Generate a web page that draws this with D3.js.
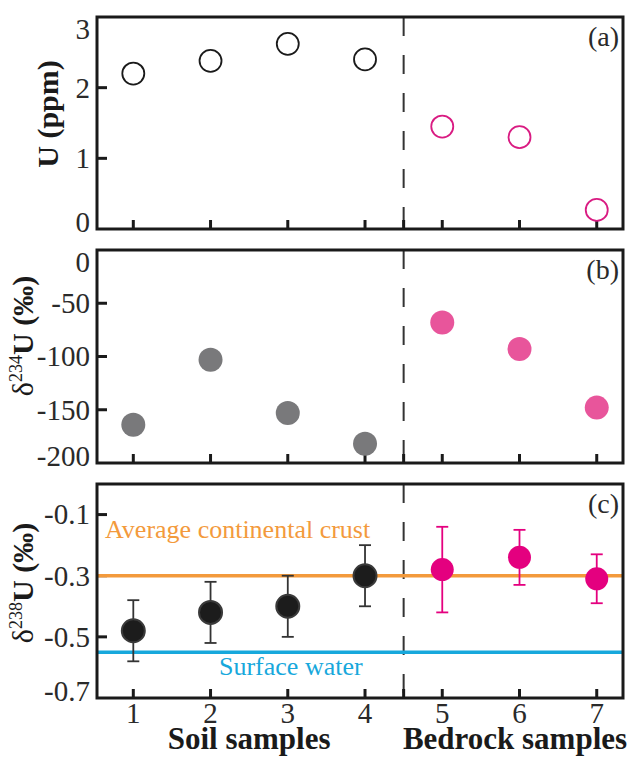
<!DOCTYPE html>
<html>
<head>
<meta charset="utf-8">
<script src="https://cdn.jsdelivr.net/npm/d3@7"></script>
<style>
  html, body { margin: 0; padding: 0; background: #fff; }
  svg { display: block; }
  svg text { font-family: Liberation Serif, DejaVu Serif, serif; }
</style>
</head>
<body>
<svg id="chart" width="631" height="759"></svg>
<script>
// Sample numbers and groups
const samples = [1, 2, 3, 4, 5, 6, 7];
const groups = ["soil", "soil", "soil", "soil", "bedrock", "bedrock", "bedrock"];
// (a) uranium concentration, ppm
const uPpm = [2.20, 2.38, 2.62, 2.40, 1.45, 1.30, 0.27];
// (b) δ234U, ‰
const d234U = [-164, -103, -153, -182, -68, -93, -148];
// (c) δ238U, ‰, with 2SD error bars
const d238U = [-0.48, -0.42, -0.40, -0.30, -0.28, -0.24, -0.31];
const d238Err = [0.10, 0.10, 0.10, 0.10, 0.14, 0.09, 0.08];
// Reference levels
const crustD238 = -0.30;
const surfaceWaterD238 = -0.55;
const boundary = 4.5;

// Tick labels
const ticksA = [0, 1, 2, 3];
const ticksB = [0, -50, -100, -150, -200];
const ticksC = [-0.1, -0.3, -0.5, -0.7];
const xTicks = [1, 2, 3, 4, 5, 6, 7];
const groupTitles = ["Soil samples", "Bedrock samples"];

const svg = d3.select("#chart");
const left = 97, right = 623;
const x = d3.scaleLinear().domain([0.53, 7.34]).range([left, right]);

const colors = {
  openSoil: "#1a1a1a", openRock: "#d91b82",
  fillSoil: "#79797b", fillRock: "#e8559b",
  dotSoil: "#1c1c1c", dotRock: "#e4007f",
  crust: "#f39a3c", water: "#17a8dc"
};

// ASCII hyphen for negatives, as typeset on the axes
const hy = s => s.replace("\u2212", "-");

function panel(top, bottom, domain, ticks, label, fmt) {
  const y = d3.scaleLinear().domain(domain).range([bottom, top]);
  const g = svg.append("g");
  // dashed soil / bedrock divider
  g.append("line")
    .attr("x1", x(boundary)).attr("x2", x(boundary))
    .attr("y1", top).attr("y2", bottom)
    .attr("stroke", "#333").attr("stroke-width", 2)
    .attr("stroke-dasharray", "19,19");
  // inward y ticks (skip ends that sit on the frame)
  const yMin = Math.min(...domain), yMax = Math.max(...domain);
  ticks.filter(t => t > yMin && t < yMax).forEach(t => {
    g.append("line").attr("x1", left).attr("x2", left + 10)
      .attr("y1", y(t)).attr("y2", y(t))
      .attr("stroke", "#1a1a1a").attr("stroke-width", 3);
  });
  // inward x ticks
  xTicks.concat([boundary]).forEach(t => {
    g.append("line").attr("x1", x(t)).attr("x2", x(t))
      .attr("y1", bottom).attr("y2", bottom - 9)
      .attr("stroke", "#1a1a1a").attr("stroke-width", 3);
  });
  // tick labels; the end labels are nudged inside the frame
  ticks.forEach(t => {
    let yy = y(t);
    if (t === yMax) yy += 12;
    if (t === yMin) yy -= 7;
    g.append("text").attr("x", left - 7).attr("y", yy)
      .attr("dy", "0.34em").attr("text-anchor", "end")
      .attr("font-size", 29).attr("fill", "#2a2a2a")
      .text(hy(fmt(t)));
  });
  // panel letter
  g.append("text").attr("x", 619).attr("y", top + 29)
    .attr("text-anchor", "end").attr("font-size", 28).attr("fill", "#2a2a2a")
    .text(label);
  return { y, g, top, bottom };
}

function frame(p) {
  p.g.append("rect").attr("x", left).attr("y", p.top)
    .attr("width", right - left).attr("height", p.bottom - p.top)
    .attr("fill", "none").attr("stroke", "#1a1a1a").attr("stroke-width", 3);
}

// ---- (a) U concentration
const pa = panel(17, 229, [0, 3], ticksA, "(a)", d3.format("d"));
pa.g.selectAll("circle.u").data(samples).join("circle")
  .attr("cx", d => x(d)).attr("cy", (d, i) => pa.y(uPpm[i])).attr("r", 11)
  .attr("fill", "none").attr("stroke-width", 1.8)
  .attr("stroke", (d, i) => groups[i] === "soil" ? colors.openSoil : colors.openRock);
frame(pa);

// ---- (b) δ234U
const pb = panel(250, 463, [-200, 0], ticksB, "(b)", d3.format("d"));
pb.g.selectAll("circle.d234").data(samples).join("circle")
  .attr("cx", d => x(d)).attr("cy", (d, i) => pb.y(d234U[i])).attr("r", 12)
  .attr("fill", (d, i) => groups[i] === "soil" ? colors.fillSoil : colors.fillRock);
frame(pb);

// ---- (c) δ238U
const pc = panel(484, 698, [-0.7, 0], ticksC, "(c)", d3.format(".1f"));
pc.g.append("line").attr("x1", left).attr("x2", right)
  .attr("y1", pc.y(crustD238)).attr("y2", pc.y(crustD238))
  .attr("stroke", colors.crust).attr("stroke-width", 3.5);
pc.g.append("line").attr("x1", left).attr("x2", right)
  .attr("y1", pc.y(surfaceWaterD238)).attr("y2", pc.y(surfaceWaterD238))
  .attr("stroke", colors.water).attr("stroke-width", 3.5);
pc.g.append("text").attr("x", 105).attr("y", 538)
  .attr("font-size", 26).attr("fill", colors.crust)
  .text("Average continental crust");
pc.g.append("text").attr("x", 219).attr("y", 675)
  .attr("font-size", 26).attr("fill", colors.water)
  .text("Surface water");

const errColor = (i) => groups[i] === "soil" ? "#333" : colors.dotRock;
samples.forEach((s, i) => {
  const cx = x(s), hi = pc.y(d238U[i] + d238Err[i]), lo = pc.y(d238U[i] - d238Err[i]);
  const eg = pc.g.append("g").attr("stroke", errColor(i)).attr("stroke-width", 1.8);
  eg.append("line").attr("x1", cx).attr("x2", cx).attr("y1", hi).attr("y2", lo);
  eg.append("line").attr("x1", cx - 6).attr("x2", cx + 6).attr("y1", hi).attr("y2", hi);
  eg.append("line").attr("x1", cx - 6).attr("x2", cx + 6).attr("y1", lo).attr("y2", lo);
});
pc.g.selectAll("circle.d238").data(samples).join("circle")
  .attr("cx", d => x(d)).attr("cy", (d, i) => pc.y(d238U[i])).attr("r", 11.5)
  .attr("fill", (d, i) => groups[i] === "soil" ? colors.dotSoil : colors.dotRock)
  .attr("stroke", (d, i) => groups[i] === "soil" ? "#3a3a3a" : "none")
  .attr("stroke-width", 2);
frame(pc);

// x tick labels
svg.append("g").selectAll("text").data(xTicks).join("text")
  .attr("x", d => x(d)).attr("y", 723).attr("text-anchor", "middle")
  .attr("font-size", 29).attr("fill", "#2a2a2a").text(d => d);

// group titles
svg.append("text").attr("x", (x(1) + x(4)) / 2).attr("y", 749)
  .attr("text-anchor", "middle").attr("font-size", 31).attr("font-weight", "bold")
  .attr("fill", "#1a1a1a").text(groupTitles[0]);
svg.append("text").attr("x", 515).attr("y", 749)
  .attr("text-anchor", "middle").attr("font-size", 31).attr("font-weight", "bold")
  .attr("fill", "#1a1a1a").text(groupTitles[1]);

// y axis titles (rotated)
function yTitle(cx, cy, iso) {
  const t = svg.append("text")
    .attr("transform", `translate(${cx},${cy}) rotate(-90)`)
    .attr("text-anchor", "middle").attr("font-size", 30).attr("fill", "#1a1a1a");
  if (iso === null) {
    t.append("tspan").attr("font-weight", "bold").text("U (ppm)");
  } else {
    t.append("tspan").text("δ");
    t.append("tspan").attr("font-size", 18).attr("dy", -11).text(iso);
    t.append("tspan").attr("font-weight", "bold").attr("dy", 11).text("U (‰)");
  }
}
yTitle(58, 114, null);
yTitle(33, 336, "234");
yTitle(33, 583, "238");
</script>
</body>
</html>
